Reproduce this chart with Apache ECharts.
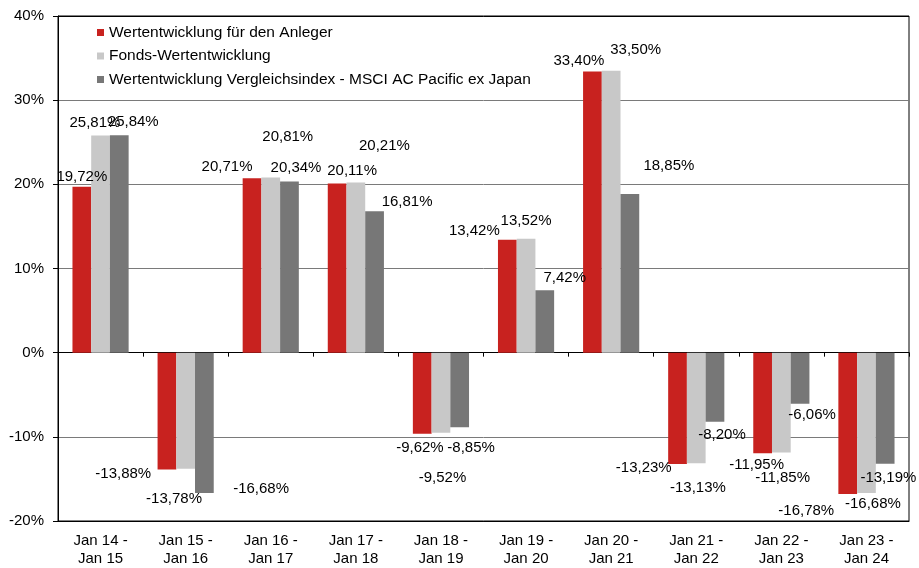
<!DOCTYPE html>
<html>
<head>
<meta charset="utf-8">
<script src="https://cdn.jsdelivr.net/npm/echarts@6/dist/echarts.min.js"></script>
<style>
html,body{margin:0;padding:0;background:#fff;}
#chart{width:919px;height:568px;}
</style>
</head>
<body>
<div id="chart"></div>
<script>
const categories = ['Jan 14 -\nJan 15','Jan 15 -\nJan 16','Jan 16 -\nJan 17','Jan 17 -\nJan 18','Jan 18 -\nJan 19','Jan 19 -\nJan 20','Jan 20 -\nJan 21','Jan 21 -\nJan 22','Jan 22 -\nJan 23','Jan 23 -\nJan 24'];
const seriesNames = ['Wertentwicklung für den Anleger','Fonds-Wertentwicklung','Wertentwicklung Vergleichsindex - MSCI AC Pacific ex Japan'];
const anleger = [19.72, -13.88, 20.71, 20.11, -9.62, 13.42, 33.40, -13.23, -11.95, -16.78];
const fonds = [25.81, -13.78, 20.81, 20.21, -9.52, 13.52, 33.50, -13.13, -11.85, -16.68];
const index = [25.84, -16.68, 20.34, 16.81, -8.85, 7.42, 18.85, -8.20, -6.06, -13.19];
const yTicks = [-20, -10, 0, 10, 20, 30, 40];

// label placement offsets (layout only), per series per category
const offAnleger = [[0,2.6],[-43.7,-7.8],[-25,1.2],[15,0],[-2.3,2],[-33,3.2],[-13.5,2.1],[-33.8,-8.3],[-6,-0.9],[-41.5,4.5]];
const offFonds = [[-5.6,-0.5],[-11.6,18],[17,-28],[28.6,-24],[1.5,32.2],[0,-5.9],[24.5,-8.1],[1.7,11.9],[1.3,12.7],[6.5,-1.3]];
const offIndex = [[14,-0.4],[56.7,-16.3],[6.5,-1.5],[32.5,3.4],[11.4,8.5],[20,0],[39,-15.5],[7,0.6],[12,-1.4],[3.2,1.4]];

const colors = ['#C8221F', '#C8C8C8', '#777777'];
const FONT = 'Liberation Sans, Arial, sans-serif';

function fmt(v){ return v.toFixed(2).replace('.', ',') + '%'; }

function buildData(vals, offs){
  return vals.map((v, i) => ({
    value: v,
    label: { position: v >= 0 ? 'top' : 'bottom', offset: offs[i] }
  }));
}

const allVals = [anleger, fonds, index];
const allOffs = [offAnleger, offFonds, offIndex];

const chart = echarts.init(document.getElementById('chart'), null, {renderer: 'canvas'});
chart.setOption({
  animation: false,
  backgroundColor: '#fff',
  textStyle: { fontFamily: FONT },
  grid: { left: 58, right: 10, top: 16, bottom: 47, show: true, borderColor: '#000', borderWidth: 1, backgroundColor: 'transparent' },
  legend: {
    orient: 'vertical', left: 97, top: 24.5, padding: 0,
    itemWidth: 7, itemHeight: 7, itemGap: 7.5, icon: 'rect',
    textStyle: { fontFamily: FONT, fontSize: 15.5, color: '#000' },
    data: seriesNames
  },
  xAxis: [{
    type: 'category', data: categories, position: 'bottom',
    axisLine: { onZero: false, lineStyle: { color: '#000', width: 1 } },
    axisTick: { show: false },
    axisLabel: { fontFamily: FONT, fontSize: 15, color: '#000', margin: 11, lineHeight: 18, interval: 0 },
    splitLine: { show: false }
  }, {
    type: 'category', data: categories, position: 'top',
    axisLine: { onZero: true, lineStyle: { color: '#000', width: 1 } },
    axisTick: { show: true, inside: true, length: 4, lineStyle: { color: '#000' } },
    axisLabel: { show: false },
    splitLine: { show: false }
  }],
  yAxis: {
    type: 'value', min: yTicks[0], max: yTicks[yTicks.length - 1], interval: 10,
    axisLine: { show: true, lineStyle: { color: '#000' } },
    axisTick: { show: true, length: 5, lineStyle: { color: '#000' } },
    axisLabel: { fontFamily: FONT, fontSize: 15, color: '#000', margin: 14, formatter: v => v + '%' },
    splitLine: { show: true, lineStyle: { color: ['#000', '#7a7a7a', '#000', '#7a7a7a', '#7a7a7a', '#7a7a7a', '#000'], width: 1 } }
  },
  series: seriesNames.map((name, s) => ({
    name: name, type: 'bar', xAxisIndex: 0,
    barGap: '0%', barCategoryGap: '34%',
    itemStyle: { color: colors[s] },
    label: { show: true, distance: 5, fontFamily: FONT, fontSize: 15, color: '#000', formatter: p => fmt(p.value) },
    data: buildData(allVals[s], allOffs[s])
  }))
});
</script>
</body>
</html>
